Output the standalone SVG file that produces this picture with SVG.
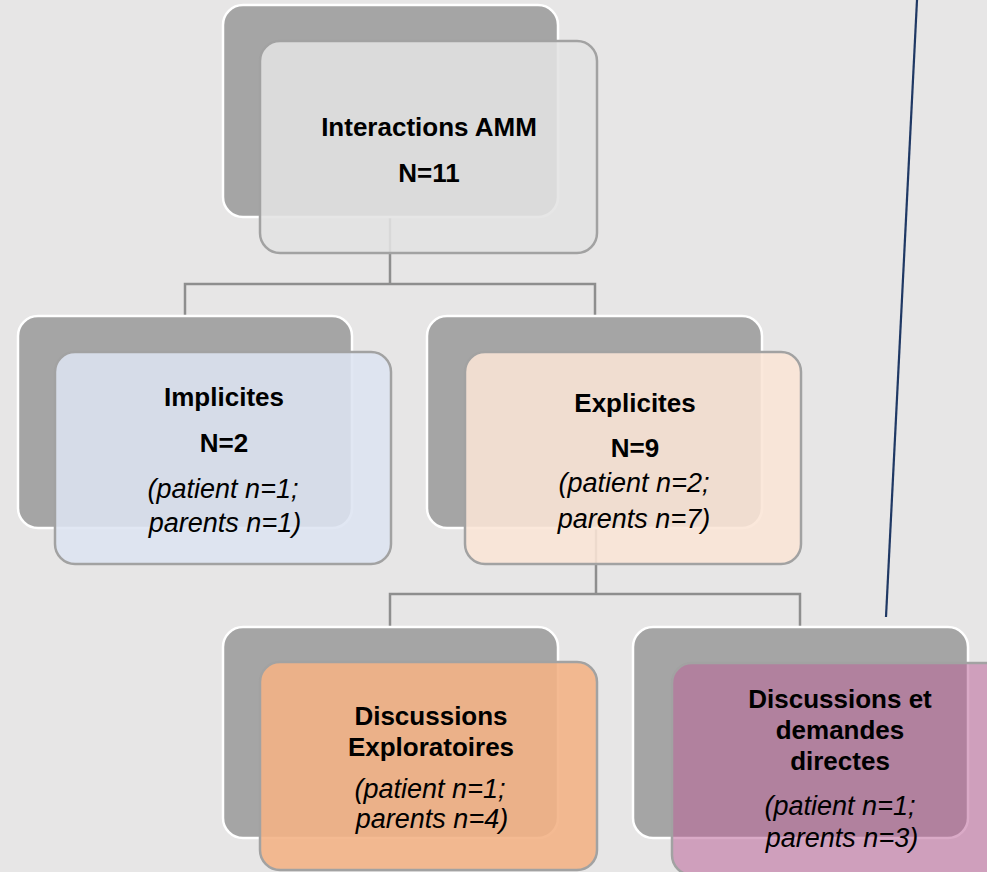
<svg xmlns="http://www.w3.org/2000/svg" width="987" height="872" viewBox="0 0 987 872">
<style>
.back{fill:#a5a5a5;stroke:#ffffff;stroke-width:2.5}
.front{stroke:#a2a2a2;stroke-width:2.5}
.conn{fill:none;stroke:#8e8e8e;stroke-width:2.5}
.b{font-family:"Liberation Sans",Arial,sans-serif;font-weight:bold;font-size:26px;fill:#000;text-anchor:middle}
.i{font-family:"Liberation Sans",Arial,sans-serif;font-style:italic;font-size:27px;fill:#000;text-anchor:middle}
</style>
<rect width="987" height="872" fill="#e7e6e6"/>
<g id="connectors">
<path class="conn" d="M390 217 V284 M185 316 V284 H595 V316"/>
<path class="conn" d="M596 528 V594 M390 627 V594 H800 V627"/>
<line x1="917" y1="0" x2="886" y2="617" stroke="#1f3864" stroke-width="2.2"/>
</g>
<g id="node-interactions">
<rect class="back" x="223" y="5" width="335" height="212" rx="20"/>
<rect class="front" x="260" y="41" width="337" height="212" rx="20" fill="#e3e3e3" fill-opacity="0.88"/>
<text class="b" x="429" y="136">Interactions AMM</text>
<text class="b" x="429" y="182">N=11</text>
</g>
<g id="node-implicites">
<rect class="back" x="18" y="316" width="334" height="212" rx="20"/>
<rect class="front" x="55" y="352" width="336" height="212" rx="20" fill="#dde4f1" fill-opacity="0.88"/>
<text class="b" x="224" y="406">Implicites</text>
<text class="b" x="224" y="452">N=2</text>
<text class="i" x="223" y="498">(patient n=1;</text>
<text class="i" x="225" y="532">parents n=1)</text>
</g>
<g id="node-explicites">
<rect class="back" x="427" y="316" width="335" height="212" rx="20"/>
<rect class="front" x="465" y="352" width="336" height="212" rx="20" fill="#fae5d6" fill-opacity="0.88"/>
<text class="b" x="635" y="412">Explicites</text>
<text class="b" x="635" y="457">N=9</text>
<text class="i" x="634" y="492">(patient n=2;</text>
<text class="i" x="634" y="528">parents n=7)</text>
</g>
<g id="node-exploratoires">
<rect class="back" x="223" y="627" width="335" height="211" rx="20"/>
<rect class="front" x="260" y="662" width="337" height="208" rx="20" fill="#f3b286" fill-opacity="0.9"/>
<text class="b" x="431" y="725">Discussions</text>
<text class="b" x="431" y="756">Exploratoires</text>
<text class="i" x="430" y="798">(patient n=1;</text>
<text class="i" x="432" y="828">parents n=4)</text>
</g>
<g id="node-directes">
<rect class="back" x="633" y="627" width="335" height="211" rx="20"/>
<rect class="front" x="672" y="663" width="337" height="212" rx="20" fill="#bb6499" fill-opacity="0.55"/>
<text class="b" x="840" y="708">Discussions et</text>
<text class="b" x="840" y="739">demandes</text>
<text class="b" x="840" y="770">directes</text>
<text class="i" x="840" y="815">(patient n=1;</text>
<text class="i" x="842" y="847">parents n=3)</text>
</g>
</svg>
